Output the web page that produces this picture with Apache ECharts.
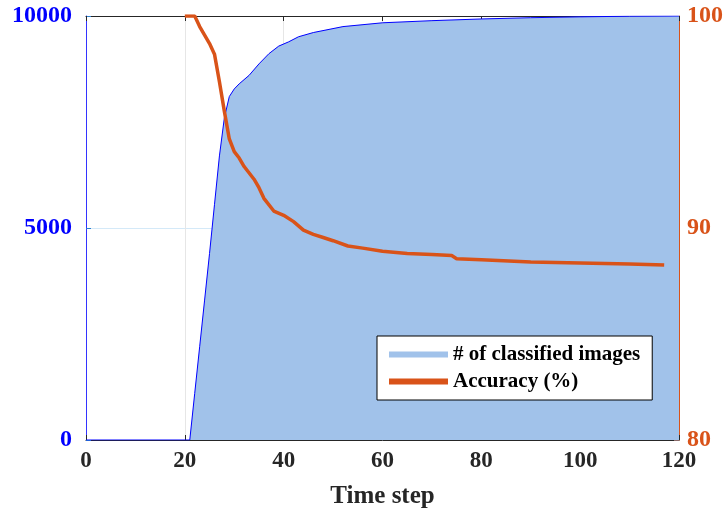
<!DOCTYPE html>
<html>
<head>
<meta charset="utf-8">
<script src="https://cdn.jsdelivr.net/npm/echarts@6/dist/echarts.min.js"></script>
<style>
  html, body { margin: 0; padding: 0; background: #fff; }
  #main { width: 723px; height: 511px; }
</style>
</head>
<body>
<div id="main"></div>
<script>
// cumulative number of classified images per time step
var countSteps = [0, 21, 22, 23, 24, 25, 26, 27, 28, 29, 30, 31, 33, 35, 37, 39, 41, 43, 46, 52, 60, 70, 80, 90, 100, 110, 120];
var counts = [0, 0, 1100, 2200, 3300, 4400, 5550, 6700, 7600, 8100, 8280, 8400, 8600, 8870, 9110, 9290, 9390, 9510, 9610, 9750, 9840, 9890, 9930, 9960, 9980, 9995, 10000];

// accuracy (%) per time step
var accSteps = [20, 22, 23, 24, 25, 26, 27, 28, 29, 30, 31, 32, 34, 35, 36, 38, 40, 42, 44, 46, 48, 50, 53, 56, 60, 65, 70, 74, 75, 80, 90, 100, 110, 117];
var accuracy = [100, 100, 99.5, 99.1, 98.7, 98.2, 96.9, 95.5, 94.2, 93.6, 93.3, 92.9, 92.3, 91.9, 91.4, 90.8, 90.6, 90.3, 89.9, 89.7, 89.55, 89.4, 89.15, 89.05, 88.9, 88.8, 88.75, 88.7, 88.55, 88.5, 88.4, 88.35, 88.3, 88.25];

var xTicks = [0, 120, 20];
var leftTicks = [0, 10000, 5000];
var rightTicks = [80, 100, 10];

var font = 'Liberation Serif';
var blue = '#0000ff';
var orange = '#d95319';

function pairs(xs, ys) {
    var out = [];
    for (var i = 0; i < xs.length; i++) out.push([xs[i], ys[i]]);
    return out;
}

var myChart = echarts.init(document.getElementById('main'));
var option = {
    animation: false,
    grid: { left: 86, right: 44, top: 16, bottom: 71, outerBoundsMode: 'none', containLabel: false },
    legend: {
        orient: 'vertical',
        left: 377,
        top: 336,
        backgroundColor: '#fff',
        borderColor: '#000',
        borderWidth: 1,
        padding: [8, 12, 8, 12],
        itemWidth: 59,
        itemHeight: 6,
        itemGap: 6,
        textStyle: { fontFamily: font, fontWeight: 'bold', fontSize: 21, color: '#000' },
        data: [
            { name: '# of classified images', icon: 'rect', itemStyle: { color: '#a1c2ea' } },
            { name: 'Accuracy (%)', icon: 'rect', itemStyle: { color: orange } }
        ]
    },
    xAxis: [{
        type: 'value',
        min: xTicks[0], max: xTicks[1], interval: xTicks[2],
        name: 'Time step',
        nameLocation: 'middle',
        nameGap: 44,
        nameTextStyle: { fontFamily: font, fontWeight: 'bold', fontSize: 25, color: '#262626' },
        axisLine: { onZero: false, lineStyle: { color: '#262626', width: 1 } },
        axisTick: { inside: true, length: 5, lineStyle: { color: '#262626' } },
        axisLabel: { fontFamily: font, fontWeight: 'bold', fontSize: 23, color: '#262626', margin: 10 },
        splitLine: { show: true, lineStyle: { color: '#e6e6e6', width: 1 } }
    }, {
        type: 'value',
        position: 'top',
        min: xTicks[0], max: xTicks[1], interval: xTicks[2],
        axisLine: { onZero: false, lineStyle: { color: '#262626', width: 1 } },
        axisTick: { inside: true, length: 5, lineStyle: { color: '#262626' } },
        axisLabel: { show: false },
        splitLine: { show: false }
    }],
    yAxis: [{
        type: 'value',
        position: 'left',
        min: leftTicks[0], max: leftTicks[1], interval: leftTicks[2],
        axisLine: { show: true, onZero: false, lineStyle: { color: '#3333ff', width: 1 } },
        axisTick: { show: true, inside: true, length: 5, lineStyle: { color: '#2a7fd0' } },
        axisLabel: {
            fontFamily: font, fontWeight: 'bold', fontSize: 24, color: blue, margin: 14,
            formatter: function (v) { return String(v); }
        },
        splitLine: { show: true, lineStyle: { color: '#d4e9f8', width: 1 } }
    }, {
        type: 'value',
        position: 'right',
        min: rightTicks[0], max: rightTicks[1], interval: rightTicks[2],
        axisLine: { show: true, onZero: false, lineStyle: { color: orange, width: 1 } },
        axisTick: { show: true, inside: true, length: 5, lineStyle: { color: '#8a6a6a' } },
        axisLabel: { fontFamily: font, fontWeight: 'bold', fontSize: 24, color: orange, margin: 8 },
        splitLine: { show: false }
    }],
    series: [{
        name: '# of classified images',
        type: 'line',
        xAxisIndex: 0,
        yAxisIndex: 0,
        showSymbol: false,
        symbol: 'none',
        data: pairs(countSteps, counts),
        lineStyle: { color: blue, width: 1 },
        itemStyle: { color: '#a1c2ea' },
        areaStyle: { color: '#a1c2ea', opacity: 1 }
    }, {
        name: 'Accuracy (%)',
        type: 'line',
        xAxisIndex: 0,
        yAxisIndex: 1,
        showSymbol: false,
        symbol: 'none',
        data: pairs(accSteps, accuracy),
        lineStyle: { color: orange, width: 3.5 },
        itemStyle: { color: orange }
    }]
};
myChart.setOption(option);
window.addEventListener("resize", function () { myChart.resize(); });
</script>
</body>
</html>
